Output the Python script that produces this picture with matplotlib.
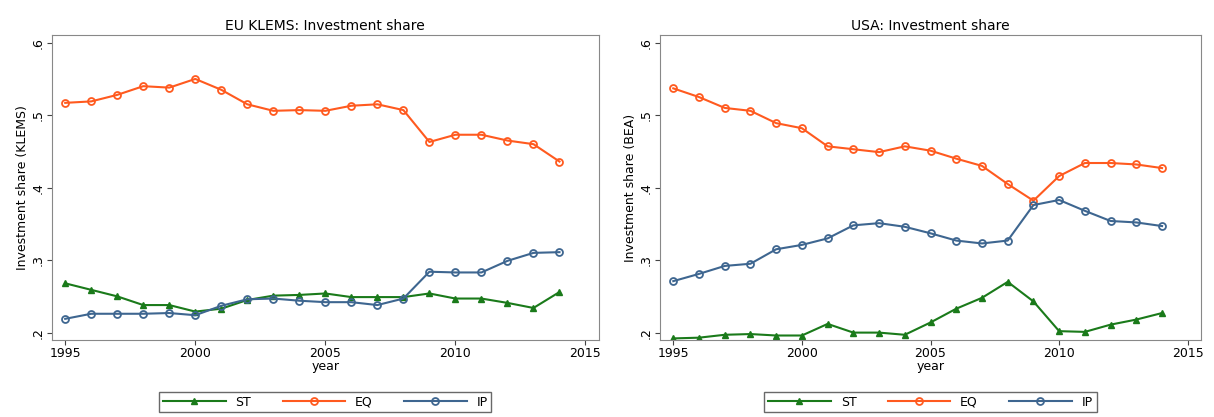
import matplotlib.pyplot as plt

years = list(range(1995, 2015))

eu_st = [.268, .259, .250, .238, .238, .229, .233, .245, .251, .252, .254, .249, .249, .249, .254, .247, .247, .241, .234, .256]
eu_eq = [.517, .519, .528, .540, .538, .550, .535, .515, .506, .507, .506, .513, .515, .507, .463, .473, .473, .465, .460, .436]
eu_ip = [.219, .226, .226, .226, .227, .224, .237, .246, .247, .244, .242, .242, .238, .247, .284, .283, .283, .299, .310, .311]

us_st = [.192, .193, .197, .198, .196, .196, .212, .200, .200, .197, .214, .233, .248, .270, .243, .202, .201, .211, .218, .227]
us_eq = [.537, .525, .510, .506, .489, .482, .457, .453, .449, .457, .451, .440, .430, .405, .382, .416, .434, .434, .432, .427]
us_ip = [.271, .281, .292, .295, .315, .321, .330, .348, .351, .346, .337, .327, .323, .327, .376, .383, .368, .354, .352, .347]

fig = plt.figure(figsize=(12.14, 4.17), dpi=100)
ax1 = fig.add_axes([0.043, 0.185, 0.45, 0.73])
ax2 = fig.add_axes([0.544, 0.185, 0.445, 0.73])


def draw_panel(ax, st, eq, ip, title, ylabel):
    ax.plot(years, st, color='#1a7a1a', marker='^', markersize=5, lw=1.5, label='ST')
    ax.plot(years, eq, color='#ff5a1f', marker='o', markersize=5, mfc='none', mew=1.3, lw=1.5, label='EQ')
    ax.plot(years, ip, color='#3e6690', marker='o', markersize=5, mfc='none', mew=1.3, lw=1.5, label='IP')
    ax.set_xlim(1994.5, 2015.5)
    ax.set_ylim(0.19, 0.61)
    ax.set_xticks([1995, 2000, 2005, 2010, 2015])
    ax.set_yticks([.2, .3, .4, .5, .6])
    ax.set_yticklabels(['.2', '.3', '.4', '.5', '.6'], rotation=90, va='center')
    ax.tick_params(labelsize=9, color='#444444', pad=2)
    ax.set_title(title, fontsize=10, pad=4)
    ax.set_xlabel('year', fontsize=9, labelpad=0)
    ax.set_ylabel(ylabel, fontsize=9, labelpad=2)
    for s in ax.spines.values():
        s.set_color('#888888')
    ax.legend(loc='upper center', bbox_to_anchor=(0.5, -0.15), ncol=3, fontsize=9,
              frameon=True, fancybox=False, edgecolor='#444444', handlelength=5,
              columnspacing=2.5, borderpad=0.3)


draw_panel(ax1, eu_st, eu_eq, eu_ip, 'EU KLEMS: Investment share', 'Investment share (KLEMS)')
draw_panel(ax2, us_st, us_eq, us_ip, 'USA: Investment share', 'Investment share (BEA)')

plt.savefig('out.png')
